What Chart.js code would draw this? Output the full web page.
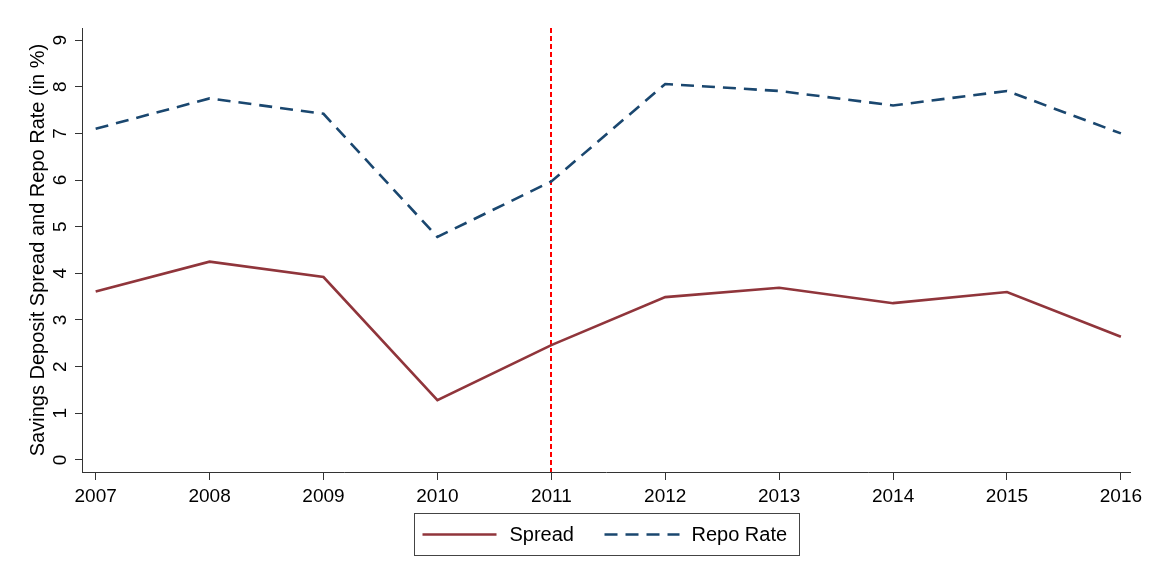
<!DOCTYPE html>
<html>
<head>
<meta charset="utf-8">
<script src="https://cdn.jsdelivr.net/npm/chart.js@4.4.1/dist/chart.umd.min.js"></script>
<style>
  html, body { margin: 0; padding: 0; background: #fff; }
  #wrap { width: 1153px; height: 575px; }
</style>
</head>
<body>
<div id="wrap"><canvas id="chart" width="1153" height="575"></canvas></div>
<script>
const years = [2007, 2008, 2009, 2010, 2011, 2012, 2013, 2014, 2015, 2016];
const spread = [3.61, 4.25, 3.92, 1.28, 2.46, 3.49, 3.69, 3.36, 3.60, 2.64];
const repoRate = [7.10, 7.75, 7.42, 4.78, 5.97, 8.06, 7.91, 7.60, 7.91, 7.00];
const yTicks = [0, 1, 2, 3, 4, 5, 6, 7, 8, 9];
const eventYear = 2011;

const font = "'Liberation Sans', Arial, sans-serif";

// vertical dashed marker + boxed legend drawn on the canvas
const extras = {
  id: "extras",
  beforeDatasetsDraw(chart) {
    const { ctx, chartArea, scales } = chart;
    const x = Math.round(scales.x.getPixelForValue(eventYear));
    ctx.save();
    ctx.strokeStyle = "#ff0000";
    ctx.lineWidth = 2;
    ctx.setLineDash([5, 3]);
    ctx.beginPath();
    ctx.moveTo(x, chartArea.top);
    ctx.lineTo(x, chartArea.bottom);
    ctx.stroke();
    ctx.restore();
  },
  afterDraw(chart) {
    const { ctx, chartArea } = chart;
    const w = 385, h = 42;
    const left = Math.round((chartArea.left + chartArea.right) / 2 - w / 2) + 0.5;
    const top = 513.5;
    ctx.save();
    ctx.strokeStyle = "#444";
    ctx.lineWidth = 1;
    ctx.strokeRect(left, top, w, h);
    const midY = top + h / 2;
    const items = [
      { ds: chart.data.datasets[0], x0: left + 8, x1: left + 82, tx: left + 95 },
      { ds: chart.data.datasets[1], x0: left + 190, x1: left + 265, tx: left + 277 }
    ];
    ctx.font = "20px " + font;
    ctx.textBaseline = "middle";
    ctx.fillStyle = "#000";
    items.forEach(it => {
      ctx.save();
      ctx.strokeStyle = it.ds.borderColor;
      ctx.lineWidth = it.ds.borderWidth;
      ctx.setLineDash(it.ds.borderDash || []);
      ctx.beginPath();
      ctx.moveTo(it.x0, midY);
      ctx.lineTo(it.x1, midY);
      ctx.stroke();
      ctx.restore();
      ctx.fillText(it.ds.label, it.tx, midY + 1);
    });
    ctx.restore();
  }
};

new Chart(document.getElementById("chart"), {
  type: "line",
  data: {
    datasets: [
      {
        label: "Spread",
        data: years.map((y, i) => ({ x: y, y: spread[i] })),
        borderColor: "#90353b",
        borderWidth: 2.6,
        pointRadius: 0,
        tension: 0
      },
      {
        label: "Repo Rate",
        data: years.map((y, i) => ({ x: y, y: repoRate[i] })),
        borderColor: "#1a476f",
        borderWidth: 2.6,
        borderDash: [13, 8],
        pointRadius: 0,
        tension: 0
      }
    ]
  },
  options: {
    responsive: false,
    animation: false,
    layout: { padding: { top: 28, right: 23, left: 0, bottom: 0 } },
    plugins: {
      legend: { display: false },
      tooltip: { enabled: false }
    },
    scales: {
      x: {
        type: "linear",
        min: 2006.88,
        max: 2016.08,
        afterBuildTicks: axis => { axis.ticks = years.map(v => ({ value: v })); },
        afterFit: axis => { axis.height = 103; },
        grid: { drawOnChartArea: false, tickLength: 8, color: "#333" },
        border: { color: "#333", width: 1 },
        ticks: {
          color: "#000",
          font: { family: font, size: 19 },
          padding: 5,
          maxRotation: 0,
          callback: v => String(v)
        }
      },
      y: {
        min: -0.26,
        max: 9.26,
        afterBuildTicks: axis => { axis.ticks = yTicks.map(v => ({ value: v })); },
        afterFit: axis => { axis.width = 82; },
        grid: { drawOnChartArea: false, tickLength: 7, color: "#333" },
        border: { color: "#333", width: 1 },
        ticks: {
          color: "#000",
          font: { family: font, size: 19 },
          padding: 9,
          minRotation: 90,
          maxRotation: 90,
          crossAlign: "center"
        },
        title: {
          display: true,
          text: "Savings Deposit Spread and Repo Rate (in %)",
          color: "#000",
          font: { family: font, size: 20 },
          padding: { top: 26, bottom: 0 }
        }
      }
    }
  },
  plugins: [extras]
});
</script>
</body>
</html>
